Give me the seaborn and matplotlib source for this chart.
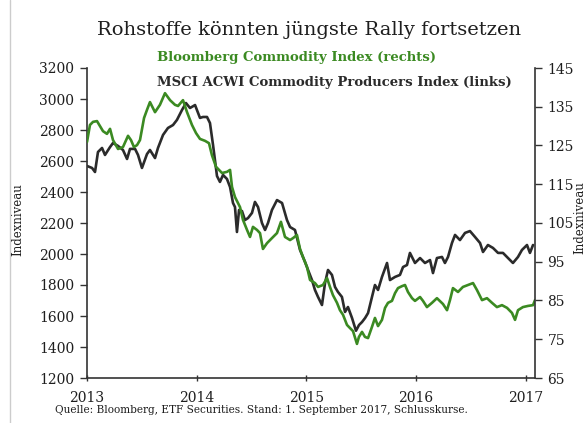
import numpy as np
import pandas as pd
import matplotlib
matplotlib.use('Agg')
import matplotlib.pyplot as plt
from matplotlib.lines import Line2D
import seaborn as sns

# MSCI ACWI Commodity Producers Index (left axis)
msciYear = [2013.00, 2013.046, 2013.073, 2013.100, 2013.137, 2013.164, 2013.210, 2013.237, 2013.283, 2013.328,
            2013.365, 2013.392, 2013.438, 2013.465, 2013.501, 2013.547, 2013.574, 2013.620, 2013.647, 2013.693,
            2013.738, 2013.784, 2013.820, 2013.866, 2013.902, 2013.939, 2013.985, 2014.030, 2014.057, 2014.094,
            2014.121, 2014.149, 2014.185, 2014.212, 2014.240, 2014.276, 2014.304, 2014.331, 2014.349, 2014.367,
            2014.386, 2014.413, 2014.440, 2014.468, 2014.504, 2014.531, 2014.559, 2014.595, 2014.623, 2014.650,
            2014.686, 2014.732, 2014.778, 2014.823, 2014.851, 2014.896, 2014.942, 2014.988, 2015.015, 2015.051,
            2015.078, 2015.106, 2015.142, 2015.170, 2015.197, 2015.233, 2015.261, 2015.288, 2015.324, 2015.352,
            2015.379, 2015.416, 2015.452, 2015.480, 2015.507, 2015.535, 2015.562, 2015.598, 2015.625, 2015.653,
            2015.689, 2015.735, 2015.762, 2015.808, 2015.853, 2015.881, 2015.917, 2015.944, 2015.990, 2016.036,
            2016.081, 2016.127, 2016.154, 2016.190, 2016.236, 2016.263, 2016.291, 2016.327, 2016.355, 2016.400,
            2016.446, 2016.491, 2016.537, 2016.583, 2016.610, 2016.655, 2016.701, 2016.747, 2016.792, 2016.838,
            2016.883, 2016.929, 2016.965, 2017.011, 2017.038, 2017.066]
msciValue = [2568, 2555, 2529, 2658, 2684, 2639, 2690, 2716, 2697, 2671,
             2613, 2678, 2678, 2639, 2555, 2645, 2671, 2619, 2684, 2768,
             2813, 2832, 2865, 2929, 2974, 2942, 2961, 2878, 2884, 2884,
             2845, 2703, 2503, 2465, 2510, 2484, 2432, 2329, 2303, 2142,
             2284, 2277, 2219, 2232, 2265, 2336, 2303, 2200, 2155, 2200,
             2284, 2348, 2329, 2219, 2174, 2155, 2026, 1948, 1897, 1832,
             1768, 1723, 1671, 1813, 1897, 1865, 1787, 1755, 1723, 1626,
             1658, 1587, 1505, 1542, 1561, 1587, 1619, 1723, 1800, 1768,
             1852, 1942, 1832, 1852, 1865, 1916, 1929, 2007, 1942, 1974,
             1942, 1961, 1877, 1974, 1981, 1942, 1981, 2071, 2123, 2090,
             2136, 2148, 2110, 2071, 2013, 2058, 2039, 2007, 2007, 1974,
             1942, 1981, 2026, 2058, 2007, 2058]

# Bloomberg Commodity Index (right axis)
bcomYear = [2013.00, 2013.027, 2013.055, 2013.091, 2013.146, 2013.182, 2013.210, 2013.237, 2013.283, 2013.328,
            2013.374, 2013.401, 2013.428, 2013.456, 2013.483, 2013.520, 2013.547, 2013.574, 2013.620, 2013.665,
            2013.711, 2013.757, 2013.802, 2013.830, 2013.875, 2013.912, 2013.957, 2013.994, 2014.030, 2014.076,
            2014.112, 2014.139, 2014.176, 2014.231, 2014.276, 2014.304, 2014.322, 2014.349, 2014.395, 2014.422,
            2014.459, 2014.486, 2014.513, 2014.550, 2014.577, 2014.604, 2014.641, 2014.686, 2014.732, 2014.768,
            2014.805, 2014.851, 2014.878, 2014.914, 2014.942, 2014.969, 2015.006, 2015.033, 2015.078, 2015.106,
            2015.151, 2015.188, 2015.215, 2015.242, 2015.279, 2015.306, 2015.334, 2015.370, 2015.397, 2015.425,
            2015.461, 2015.479, 2015.507, 2015.534, 2015.562, 2015.598, 2015.625, 2015.653, 2015.689, 2015.717,
            2015.744, 2015.780, 2015.808, 2015.835, 2015.871, 2015.899, 2015.926, 2015.963, 2015.990, 2016.036,
            2016.063, 2016.099, 2016.145, 2016.190, 2016.245, 2016.282, 2016.309, 2016.336, 2016.382, 2016.427,
            2016.473, 2016.519, 2016.555, 2016.601, 2016.646, 2016.692, 2016.737, 2016.783, 2016.829, 2016.874,
            2016.902, 2016.929, 2016.974, 2017.020, 2017.066, 2017.084]
bcomValue = [125.9, 130.3, 131.1, 131.3, 128.7, 128.0, 129.3, 126.4, 124.1, 124.6,
             127.5, 126.4, 124.6, 125.1, 126.4, 132.1, 134.2, 136.2, 133.6, 135.5,
             138.5, 136.7, 135.5, 135.2, 136.7, 133.6, 130.3, 128.2, 126.7, 126.2,
             125.6, 122.5, 119.5, 117.9, 118.2, 118.7, 114.3, 111.7, 109.1, 105.8,
             103.2, 101.4, 104.0, 103.2, 102.4, 98.3, 99.8, 101.1, 102.4, 105.3,
             101.4, 100.6, 101.1, 101.9, 98.3, 96.2, 93.6, 90.3, 89.5, 88.5,
             89.0, 90.8, 88.5, 86.4, 84.4, 82.5, 81.3, 78.7, 77.9, 77.1,
             73.8, 75.6, 76.9, 75.6, 75.3, 78.2, 80.5, 78.4, 80.0, 83.1,
             84.4, 84.9, 86.9, 88.2, 88.7, 89.0, 87.2, 85.6, 84.9, 85.9,
             84.9, 83.3, 84.4, 85.6, 84.1, 82.5, 85.1, 88.2, 87.2, 88.5,
             89.0, 89.5, 87.7, 85.1, 85.6, 84.4, 83.3, 83.8, 83.1, 81.8,
             80.0, 82.5, 83.3, 83.6, 83.8, 85.1]

yearTicks = [2013, 2014, 2015, 2016, 2017]
leftTicks = [1200, 1400, 1600, 1800, 2000, 2200, 2400, 2600, 2800, 3000, 3200]
rightTicks = [65, 75, 85, 95, 105, 115, 125, 135, 145]

titleText = 'Rohstoffe könnten jüngste Rally fortsetzen'
greenLabel = 'Bloomberg Commodity Index (rechts)'
blackLabel = 'MSCI ACWI Commodity Producers Index (links)'
sourceText = 'Quelle: Bloomberg, ETF Securities. Stand: 1. September 2017, Schlusskurse.'

greenColor = '#3b8a22'
blackColor = '#2b2b2b'
textColor = '#1e1e1e'
lineWidth = 1.9
tickSize = 10

sns.set_style('white')
plt.rcParams['font.family'] = ['DejaVu Serif']

msciDf = pd.DataFrame({'year': msciYear, 'value': msciValue})
bcomDf = pd.DataFrame({'year': bcomYear, 'value': bcomValue})

fig = plt.figure(figsize=(5.86, 4.23), dpi=100)
ax = fig.add_axes([87 / 586, 45 / 423, 448 / 586, 310 / 423])
ax2 = ax.twinx()

sns.lineplot(data=msciDf, x='year', y='value', ax=ax, color=blackColor, lw=lineWidth)
sns.lineplot(data=bcomDf, x='year', y='value', ax=ax2, color=greenColor, lw=lineWidth)

ax.set_xlim(2013, 2017.084)
ax.set_ylim(1200, 3200)
ax2.set_ylim(65, 145)
ax.set_xticks(yearTicks)
ax.set_yticks(leftTicks)
ax2.set_yticks(rightTicks)
ax.set_xlabel('')
ax.set_ylabel('')
ax2.set_ylabel('')

for a in (ax, ax2):
	a.spines['top'].set_visible(False)
	for side in ('left', 'right', 'bottom'):
		a.spines[side].set_color('#333333')
		a.spines[side].set_linewidth(1.2)
ax.spines['right'].set_visible(False)
ax2.spines['left'].set_visible(False)
ax2.spines['bottom'].set_visible(False)

ax.tick_params(axis='y', which='both', left=True, length=5, width=1, color='#333333',
               labelsize=tickSize, labelcolor=textColor, pad=4)
ax.tick_params(axis='x', bottom=True, direction='inout', length=5, width=1, color='#333333',
               labelsize=tickSize, labelcolor=textColor, pad=7)
ax2.tick_params(axis='y', right=True, length=5, width=1, color='#333333',
                labelsize=tickSize, labelcolor=textColor, pad=4)

fig.text(0.528, 0.929, titleText, ha='center', va='center', fontsize=14, color=textColor)
fig.text(157 / 586, 1 - 58 / 423, greenLabel, ha='left', va='center', fontsize=9.5,
         fontweight='bold', color=greenColor)
fig.text(157 / 586, 1 - 82 / 423, blackLabel, ha='left', va='center', fontsize=9.5,
         fontweight='bold', color=blackColor)
fig.text(18 / 586, 1 - 220 / 423, 'Indexniveau', rotation=90, ha='center', va='center',
         fontsize=8.5, color=textColor)
fig.text(580 / 586, 1 - 218 / 423, 'Indexniveau', rotation=90, ha='center', va='center',
         fontsize=8.5, color=textColor)
fig.text(55 / 586, 1 - 410 / 423, sourceText, ha='left', va='center', fontsize=7.6, color=textColor)

fig.add_artist(Line2D([10 / 586, 10 / 586], [0, 1], color='#cccccc', lw=1, transform=fig.transFigure))

fig.savefig('out.png', dpi=100)
